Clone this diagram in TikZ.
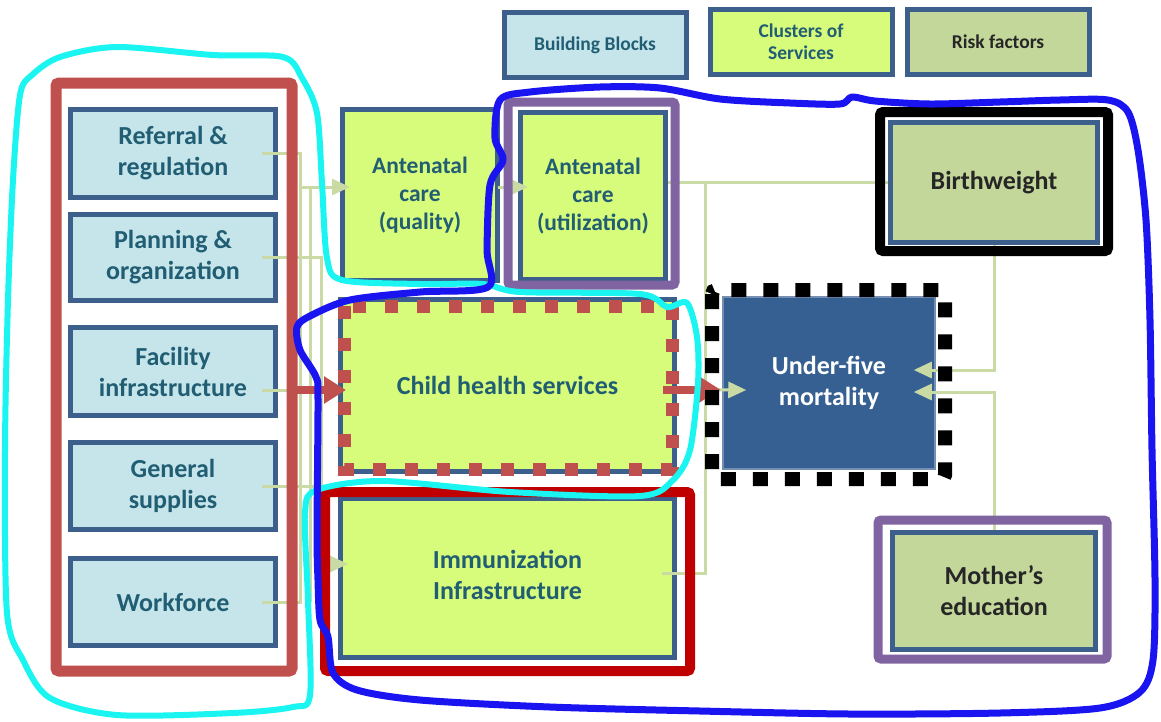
\documentclass[tikz,border=0pt]{standalone}
\usepackage{fontspec}
\setmainfont{Carlito}
\usetikzlibrary{arrows.meta, calc}

\definecolor{bbfill}{HTML}{C5E5EB}
\definecolor{bbline}{HTML}{3C5F8C}
\definecolor{bbtext}{HTML}{215E73}
\definecolor{svcfill}{HTML}{D7FB7B}
\definecolor{riskfill}{HTML}{C4D79B}
\definecolor{outfill}{HTML}{376092}
\definecolor{linkgreen}{HTML}{C9DAA4}
\definecolor{framered}{HTML}{C0504D}
\definecolor{darkred}{HTML}{C00000}
\definecolor{framepurple}{HTML}{8064A2}
\definecolor{handcyan}{HTML}{1AF5F2}
\definecolor{handblue}{HTML}{1A14F0}

\tikzset{
  box/.style={draw=bbline, line width=5pt, align=center, inner sep=0pt,
    font=\bfseries\fontsize{26}{31}\selectfont},
  block/.style={box, fill=bbfill, text=bbtext, minimum width=205pt},
  service/.style={box, fill=svcfill, text=bbtext},
  risk/.style={box, fill=riskfill, text=black!85},
  outcome/.style={box, fill=outfill, draw=outfill!70!white, line width=1.5pt, text=white},
  legend/.style={font=\bfseries\fontsize{19.5}{22}\selectfont, minimum width=182pt, minimum height=65pt},
  link/.style={draw=linkgreen, line width=3pt},
  linkarrow/.style={link, -{Triangle[length=18pt, width=16pt]}},
  redarrow/.style={draw=framered, line width=8pt, -{Triangle[length=22pt, width=26pt]}},
  frame/.style={line width=10pt, rounded corners=3pt},
  hand/.style={line width=6pt, line join=round, line cap=round}
}

\begin{document}
\begin{tikzpicture}[x=1pt, y=-1pt]
\useasboundingbox (0,0) rectangle (1161,721);

% legend
\node[block, legend] (legbb) at (595,45) {Building Blocks};
\node[service, legend] (legsvc) at (801,42) {Clusters of\\Services};
\node[risk, legend] (legrisk) at (998,42) {Risk factors};

% building blocks
\node[block, minimum height=88pt] (ref) at (173,153.5) {Referral \&\\regulation};
\node[block, minimum height=86pt] (plan) at (173,257.5) {Planning \&\\organization};
\node[block, minimum height=88pt] (fac) at (173,371.5) {Facility\\infrastructure};
\node[block, minimum height=87pt] (gen) at (173,486) {General\\supplies};
\node[block, minimum height=87pt] (work) at (173,602) {Workforce};

% clusters of services
\node[service, font=\bfseries\fontsize{23.5}{28}\selectfont, minimum width=155pt, minimum height=171pt] (q) at (420,195) {Antenatal\\care\\(quality)};
\node[service, font=\bfseries\fontsize{23.5}{28}\selectfont, minimum width=145pt, minimum height=167pt] (util) at (593,196) {Antenatal\\care\\(utilization)};
\node[service, minimum width=334pt, minimum height=172pt] (child) at (507.5,385.5) {Child health services};
\node[service, minimum width=334pt, minimum height=159pt] (imm) at (507.5,578) {\raisebox{8pt}{\begin{tabular}{@{}c@{}}Immunization\\Infrastructure\end{tabular}}};

% outcome and risk factors
\node[outcome, minimum width=212pt, minimum height=172pt] (u5) at (829,383) {Under-five\\mortality};
\node[risk, minimum width=207pt, minimum height=120pt] (bw) at (994,182.5) {Birthweight};
\node[risk, minimum width=203pt, minimum height=117pt] (mom) at (994,591) {Mother's\\education};

% helper points
\coordinate (b0) at (289,0);
\coordinate (b1) at (300,0);
\coordinate (b2) at (310,0);
\coordinate (b3) at (321,0);
\coordinate (bwjoin) at (705,0);
\coordinate (qin) at ([shift={(10,-8)}]q.west);
\coordinate (immin) at ([shift={(10,-14)}]imm.west);
\coordinate (chin) at ([shift={(8,4.5)}]child.west);
\coordinate (chout) at ([shift={(-14,4)}]child.east);
\coordinate (immout) at ([shift={(-15,-5)}]imm.east);
\coordinate (u5inA) at ([shift={(-22,-13)}]u5.east);
\coordinate (u5inB) at ([shift={(-22,9)}]u5.east);
\coordinate (u5inC) at ([shift={(24,7)}]u5.west);
\coordinate (redtip) at ([xshift=-2pt]u5.west);
\coordinate (refout) at ([xshift=-16pt]ref.east);
\coordinate (planout) at ([xshift=-16pt]plan.east);
\coordinate (facout) at ([xshift=-16pt]fac.east);
\coordinate (genout) at ([xshift=-16pt]gen.east);
\coordinate (workout) at ([xshift=-16pt]work.east);

% links from the building blocks
\draw[link] (refout) -| (b1 |- workout) -- (workout);
\draw[link] (qin -| b2) -- (b2 |- workout);
\draw[link] (facout |- chin) -- (chin -| b3);
\draw[link] (genout) -- (genout -| b3);
\draw[linkarrow] (planout) -| (immin -| b3) -- (immin);
\draw[linkarrow] (qin -| b1) -- (qin);
\draw[redarrow] (chin -| b0) -- (chin);

% links between services and outcome
\draw[linkarrow] ([shift={(-2,-8)}]q.east) -- ([shift={(10,-9)}]util.west);
\draw[link] (bw.west) -- (bw.west -| util.east);
\draw[link] (bw.west -| bwjoin) |- (immout);
\draw[linkarrow] (chout) -- (u5inC);
\draw[redarrow] (chout) -- (chout -| redtip);
\draw[linkarrow] (bw.south) |- (u5inA);
\draw[linkarrow] (mom.north) |- (u5inB);

% frames
\draw[frame, framered, line width=11pt] (56,83) rectangle (292,671);
\draw[frame, framepurple, line width=9pt] (508,102) rectangle (675,285);
\draw[frame, darkred] (325,492) rectangle (690,671);
\draw[frame, black] (880,112) rectangle (1108,251);
\draw[frame, framepurple, line width=9pt] (878,520) rectangle (1107,659);
\draw[framered, line width=13pt, dash pattern=on 13pt off 19pt] (344,306) rectangle (672,469);
\draw[black, line width=14pt, dash pattern=on 15pt off 17pt, rounded corners=4pt] (712,290) rectangle (945,479);

% hand-drawn outlines
\draw[hand, handcyan] plot[smooth cycle, tension=0.5] coordinates {
  (32,75) (60,57) (117,47) (213,55) (283,57) (302,78) (317,113) (322,183)
  (327,258) (342,280) (420,284) (483,284) (520,292) (640,294) (667,307)
  (687,303) (697,337) (698,383) (690,450) (673,480) (640,496) (510,492)
  (383,481) (317,490) (305,512) (308,600) (310,695) (293,707) (233,713)
  (117,715) (50,698) (23,660) (7,613) (5,450) (8,300) (13,180) (20,95)};
\draw[hand, handblue, line width=7pt] plot[smooth cycle, tension=0.5] coordinates {
  (488,287) (487,250) (490,185) (503,160) (495,138) (500,100) (530,92)
  (600,87) (660,88) (720,99) (790,103) (840,104) (852,97) (875,101)
  (930,104) (1000,102) (1060,100) (1108,100) (1128,112) (1138,150)
  (1146,220) (1150,320) (1152,450) (1155,580) (1153,660) (1140,692)
  (1100,708) (1000,713) (850,714) (700,711) (550,707) (420,700) (357,690)
  (333,673) (328,637) (320,620) (318,580) (317,533) (318,400) (316,377)
  (300,350) (297,327) (310,316) (350,300) (420,292)};
\end{tikzpicture}
\end{document}
